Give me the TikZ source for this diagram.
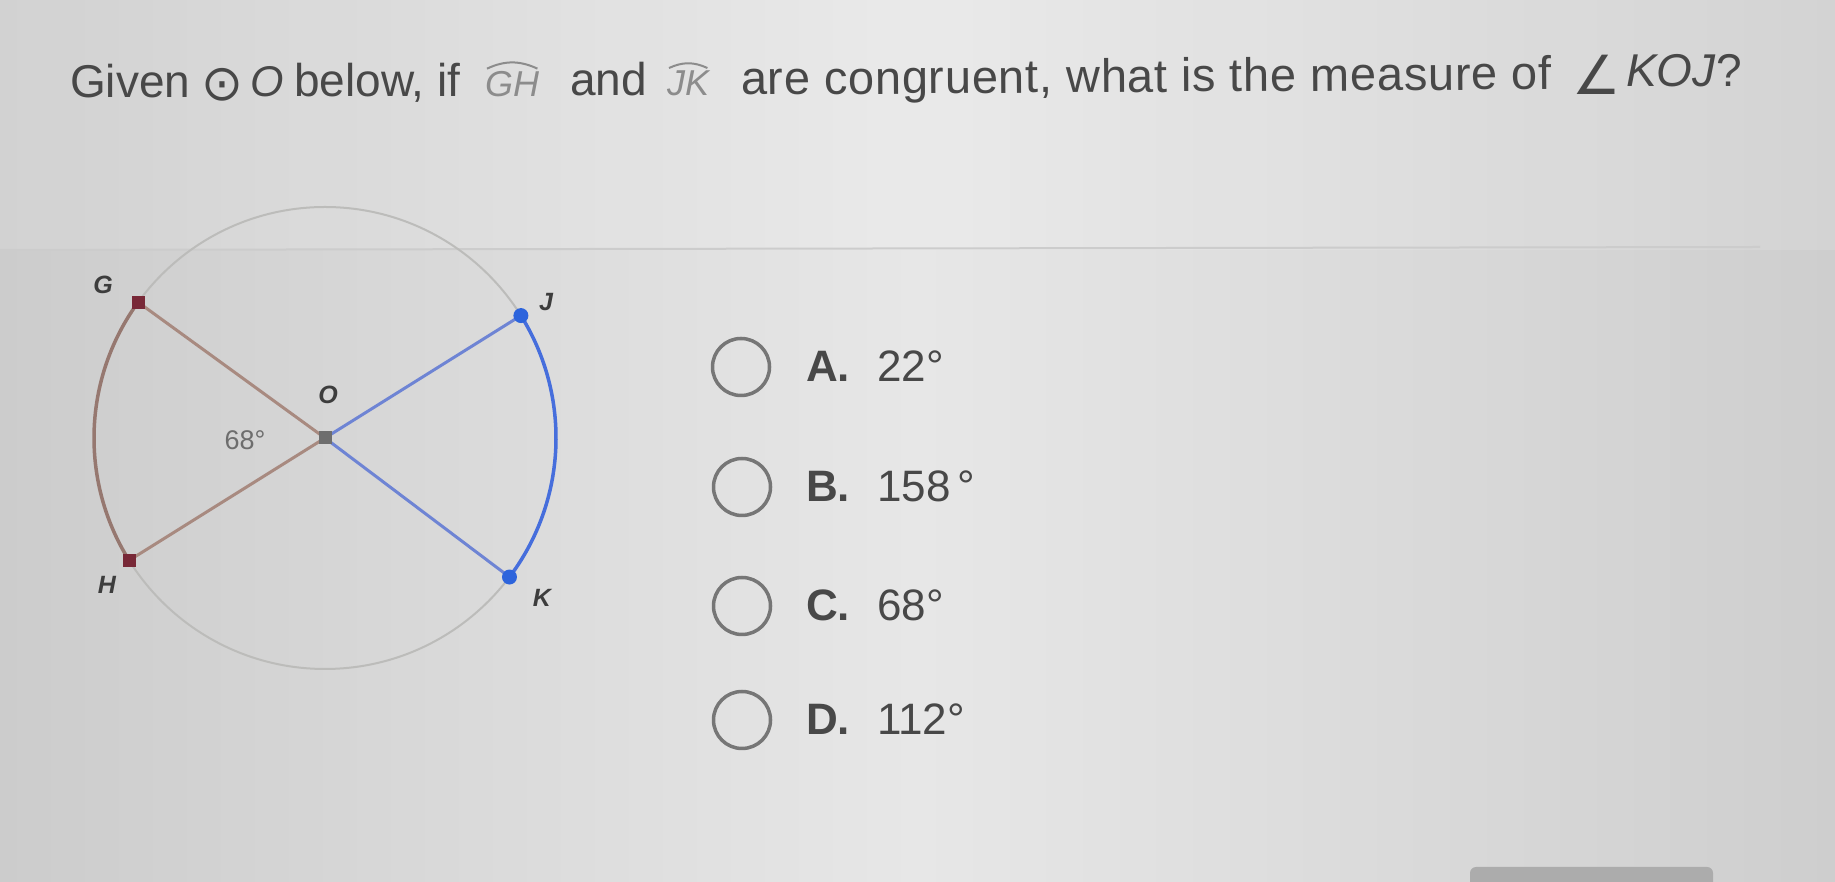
\documentclass[tikz,border=0pt]{standalone}
\usepackage{fontspec}
\setmainfont{Liberation Sans}
\setsansfont{Liberation Sans}
\newfontfamily\symfnt{DejaVu Sans}
\definecolor{bgmid}{RGB}{231,231,231}
\definecolor{bgleft}{RGB}{204,204,204}
\definecolor{bgright}{RGB}{206,206,206}
\definecolor{txt}{RGB}{72,72,72}
\definecolor{lighttxt}{RGB}{140,140,140}
\definecolor{circgray}{RGB}{188,188,186}
\definecolor{brownarc}{RGB}{150,120,112}
\definecolor{brownrad}{RGB}{168,138,128}
\definecolor{bluearc}{RGB}{70,110,220}
\definecolor{bluerad}{RGB}{110,132,212}
\definecolor{maroon}{RGB}{120,40,55}
\definecolor{bluedot}{RGB}{45,100,220}
\definecolor{ogray}{RGB}{110,110,110}
\definecolor{radiogray}{RGB}{118,118,118}
\begin{document}
\begin{tikzpicture}[x=1pt,y=1pt,
  qtext/.style={anchor=base west,inner sep=0pt,text=txt,font=\fontsize{46}{46}\selectfont},
  arctext/.style={anchor=base west,inner sep=0pt,text=lighttxt,font=\fontsize{36}{36}\selectfont\itshape},
  arcmark/.style={draw=lighttxt,line width=2pt},
  ptlabel/.style={inner sep=0pt,text=txt!85!black,font=\fontsize{25}{25}\selectfont\bfseries\itshape},
  radio/.style={circle,draw=radiogray,line width=3.5pt,minimum size=57pt,inner sep=0pt},
  optletter/.style={anchor=base west,inner sep=0pt,text=txt,font=\fontsize{44}{44}\selectfont\bfseries},
  optval/.style={anchor=base west,inner sep=0pt,text=txt,font=\fontsize{44}{44}\selectfont},
  sqdot/.style={rectangle,inner sep=0pt,minimum size=13pt},
  rddot/.style={circle,inner sep=0pt,minimum size=15pt,fill=bluedot}]
% background
\useasboundingbox (0,0) rectangle (1835,882);
\shade[left color=bgleft,right color=bgright,middle color=bgmid] (0,0) rectangle (1835,882);
\fill[white,opacity=0.12] (0,632) rectangle (1835,882);
\draw[gray!40,line width=2pt] (0,632) -- (1760,635);
\fill[gray!65,rounded corners=6pt] (1470,-20) rectangle (1713,15);

% question (pieces placed along the slightly rising line of the photo)
\node[qtext] (q1) at (70,784) {Given};
\node[anchor=center,inner sep=0pt,text=txt,font=\fontsize{50}{50}\selectfont\symfnt] (q2) at (222,797) {⊙};
\node[qtext,font=\fontsize{43}{43}\selectfont] (q3) at (250,785) {\textit{O}};
\node[qtext] (q4) at (294,785) {below, if};
\node[arctext] (q5) at (485,785) {GH};
\draw[arcmark] ([xshift=2pt,yshift=3pt]q5.north west) to[bend left=25] ([xshift=-2pt,yshift=3pt]q5.north east);
\node[qtext] (q6) at (570,786) {and};
\node[arctext] (q7) at (667,786) {JK};
\draw[arcmark] ([xshift=2pt,yshift=3pt]q7.north west) to[bend left=25] ([xshift=-2pt,yshift=3pt]q7.north east);
\node[qtext,rotate=0.4,font=\fontsize{47}{47}\selectfont\addfontfeature{LetterSpace=1.5}] (q8) at (741,787) {are congruent, what is the measure of};
\node[anchor=base west,inner sep=0pt,text=txt,font=\fontsize{54}{54}\selectfont\symfnt] (q9) at (1572,787) {∠};
\node[qtext] (q10) at (1626,795) {\textit{KOJ}?};

% circle
\coordinate (O) at (325,444);
\coordinate (G) at ([shift={(144:231)}]O);
\coordinate (H) at ([shift={(212:231)}]O);
\coordinate (J) at ([shift={(32:231)}]O);
\coordinate (K) at ([shift={(-37:231)}]O);
\draw[circgray,line width=2pt] (O) circle (231);
\draw[brownarc,line width=3.5pt] (G) arc[start angle=144,end angle=212,radius=231];
\draw[bluearc,line width=3.5pt] (K) arc[start angle=-37,end angle=32,radius=231];
\draw[brownrad,line width=3pt] (G) -- (O) -- (H);
\draw[bluerad,line width=3pt] (J) -- (O) -- (K);
\node[sqdot,fill=maroon] (Gd) at (G) {};
\node[sqdot,fill=maroon] (Hd) at (H) {};
\node[sqdot,fill=ogray] (Od) at (O) {};
\node[rddot] (Jd) at (J) {};
\node[rddot] (Kd) at (K) {};
\node[ptlabel] (Gl) at (103,597) {G};
\node[ptlabel] (Jl) at (546,580) {J};
\node[ptlabel] (Ol) at (328,487) {O};
\node[ptlabel] (Hl) at (107,297) {H};
\node[ptlabel] (Kl) at (542,284) {K};
\node[inner sep=0pt,text=txt!80,font=\fontsize{27}{27}\selectfont] (ang) at (245,442) {68°};

% options
\node[radio] (ra) at (741,515) {};
\node[radio] (rb) at (742,395) {};
\node[radio] (rc) at (742,276) {};
\node[radio] (rd) at (742,162) {};
\node[optletter] (la) at (806,500) {A.};
\node[optletter] (lb) at (806,380) {B.};
\node[optletter] (lc) at (806,261) {C.};
\node[optletter] (ld) at (806,147) {D.};
\node[optval] (va) at (877,500) {22°};
\node[optval] (vb) at (877,380) {158\,°};
\node[optval] (vc) at (877,261) {68°};
\node[optval] (vd) at (877,147) {112°};
\end{tikzpicture}
\end{document}
